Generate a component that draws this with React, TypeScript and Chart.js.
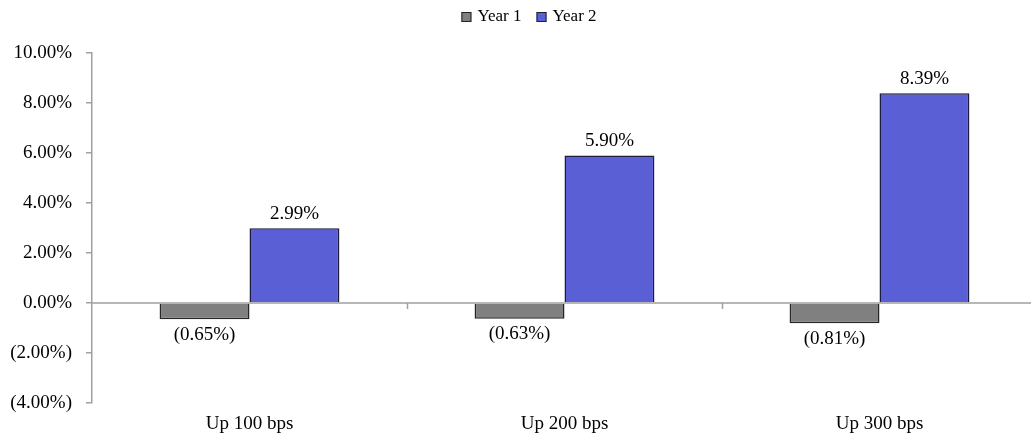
import React, { useEffect, useRef } from "react";
import { Chart, registerables } from "chart.js";

Chart.register(...registerables);

const categories = ["Up 100 bps", "Up 200 bps", "Up 300 bps"];
const year1 = [-0.65, -0.63, -0.81];
const year2 = [2.99, 5.9, 8.39];
const seriesNames = ["Year 1", "Year 2"];
const seriesColors = ["#808080", "#5b5fd5"];
const seriesBorders = ["#262626", "#1c1c3c"];

const FONT = "'Liberation Serif', 'Times New Roman', serif";
const fmt = (v: number) => (v < 0 ? `(${(-v).toFixed(2)}%)` : `${v.toFixed(2)}%`);

const overlayPlugin = {
  id: "overlay",
  afterDatasetsDraw(chart: any) {
    const { ctx, chartArea, scales } = chart;
    const y0 = scales.y.getPixelForValue(0);
    ctx.save();
    ctx.strokeStyle = "#a0a0a0";
    ctx.lineWidth = 1.5;
    ctx.beginPath();
    ctx.moveTo(chartArea.left, y0);
    ctx.lineTo(chartArea.right, y0);
    const n = categories.length;
    const w = (chartArea.right - chartArea.left) / n;
    for (let i = 1; i <= n; i++) {
      const x = Math.round(chartArea.left + i * w) + 0.5;
      ctx.moveTo(x, y0);
      ctx.lineTo(x, y0 + 6);
    }
    ctx.stroke();
    ctx.fillStyle = "#000";
    ctx.font = `19px ${FONT}`;
    ctx.textAlign = "center";
    chart.data.datasets.forEach((ds: any, di: number) => {
      const meta = chart.getDatasetMeta(di);
      meta.data.forEach((bar: any, i: number) => {
        const v = ds.data[i];
        if (v >= 0) {
          ctx.textBaseline = "bottom";
          ctx.fillText(fmt(v), bar.x, bar.y - 5);
        } else {
          ctx.textBaseline = "top";
          ctx.fillText(fmt(v), bar.x, bar.y + 6);
        }
      });
    });

    // legend
    ctx.font = `17px ${FONT}`;
    ctx.textAlign = "left";
    ctx.textBaseline = "middle";
    const box = 10;
    const gapBoxText = 6;
    const gapItems = 15;
    const widths = chart.data.datasets.map((ds: any) => box + gapBoxText + ctx.measureText(ds.label).width);
    const total = widths.reduce((a: number, b: number) => a + b, 0) + gapItems * (widths.length - 1);
    let x = 529 - total / 2;
    const cy = 17;
    chart.data.datasets.forEach((ds: any, di: number) => {
      ctx.fillStyle = ds.backgroundColor;
      ctx.fillRect(x, cy - box / 2, box, box);
      ctx.strokeStyle = "#222";
      ctx.lineWidth = 1;
      ctx.strokeRect(x + 0.5, cy - box / 2 + 0.5, box - 1, box - 1);
      ctx.fillStyle = "#000";
      ctx.fillText(ds.label, x + box + gapBoxText, cy);
      x += widths[di] + gapItems;
    });
    ctx.restore();
  },
};

export default function App() {
  const ref = useRef<HTMLCanvasElement>(null);
  useEffect(() => {
    if (!ref.current) return;
    const chart = new Chart(ref.current, {
      type: "bar",
      data: {
        labels: categories,
        datasets: [
          {
            label: seriesNames[0],
            data: year1,
            backgroundColor: seriesColors[0],
            borderColor: seriesBorders[0],
            borderWidth: 1.5,
          },
          {
            label: seriesNames[1],
            data: year2,
            backgroundColor: seriesColors[1],
            borderColor: seriesBorders[1],
            borderWidth: 1.5,
          },
        ],
      },
      options: {
        responsive: false,
        animation: false,
        datasets: { bar: { categoryPercentage: 0.571, barPercentage: 1 } },
        layout: { padding: { top: 53, left: 0, right: 0, bottom: 0 } },
        plugins: {
          tooltip: { enabled: false },
          legend: { display: false },
        },
        scales: {
          x: {
            grid: { display: false },
            border: { display: false },
            ticks: { color: "#000", font: { family: FONT, size: 19 }, padding: 2 },
            afterFit: (s: any) => {
              s.height = 43;
            },
          },
          y: {
            min: -4,
            max: 10,
            ticks: {
              stepSize: 2,
              color: "#000",
              font: { family: FONT, size: 19 },
              padding: 14,
              callback: (v: any) => fmt(Number(v)),
            },
            grid: { drawOnChartArea: false, drawTicks: true, tickLength: 6, color: "#a0a0a0", lineWidth: 1.5 },
            border: { display: true, color: "#a0a0a0", width: 1.5 },
            afterFit: (s: any) => {
              s.width = 92;
            },
          },
        },
      },
      plugins: [overlayPlugin],
    });
    return () => chart.destroy();
  }, []);
  return (
    <div style={{ position: "absolute", left: 0, top: 0, width: 1031, height: 446, overflow: "hidden", background: "#fff" }}>
      <canvas ref={ref} width={1037} height={446} style={{ width: 1037, height: 446 }} />
    </div>
  );
}
